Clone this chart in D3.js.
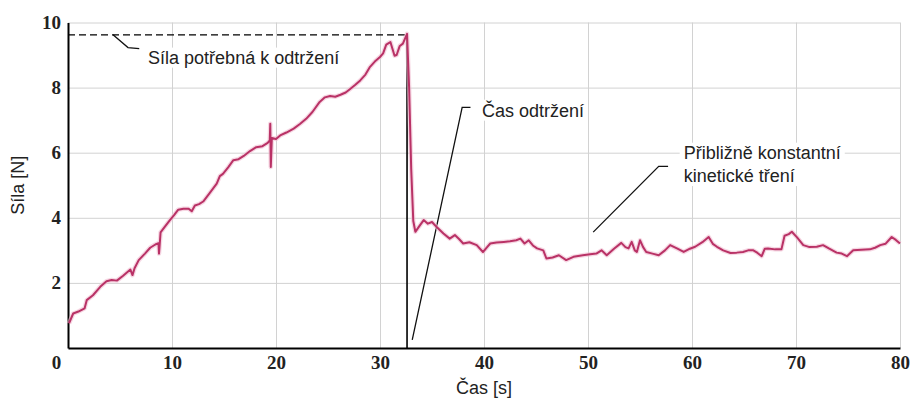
<!DOCTYPE html>
<html>
<head>
<meta charset="utf-8">
<script src="https://cdn.jsdelivr.net/npm/d3@7"></script>
<style>
	body { margin: 0; background: #fff; }
	.grid line { stroke: #d2d2d2; stroke-width: 1; }
	.grid path { display: none; }
	.tick text { font-family: "Liberation Serif", serif; font-weight: bold; font-size: 19px; fill: #222; }
	.label { font-family: "Liberation Sans", Arial, sans-serif; font-size: 18px; fill: #222; }
	.leader { stroke: #111; stroke-width: 1.3; fill: none; }
</style>
</head>
<body>
<svg width="911" height="398"></svg>
<script>
// data: time [s] and force [N]
var time = [
	0.1, 0.5, 1.0, 1.6, 1.8, 2.4, 3.1, 3.7, 4.2, 4.7,
	5.3, 6.0, 6.2, 6.4, 6.8, 7.4, 7.9, 8.4, 8.7, 8.75,
	8.8, 8.9, 9.3, 9.8, 10.2, 10.6, 11.1, 11.6, 11.9, 12.2,
	12.6, 13.0, 13.6, 14.3, 14.6, 14.9, 15.4, 15.9, 16.4, 16.9,
	17.5, 18.1, 18.7, 19.2, 19.4, 19.45, 19.5, 19.6, 20.0, 20.4,
	21.0, 21.7, 22.3, 22.9, 23.5, 24.2, 24.7, 25.2, 25.7, 26.2,
	26.7, 27.1, 27.6, 28.1, 28.6, 29.0, 29.5, 30.0, 30.3, 30.6,
	31.0, 31.4, 31.6, 31.9, 32.2, 32.6, 32.8, 33.0, 33.2, 33.4,
	33.8, 34.2, 34.6, 35.0, 35.5, 36.1, 36.7, 37.2, 37.6, 38.0,
	38.6, 39.3, 39.9, 40.3, 40.6, 41.2, 41.9, 42.5, 43.1, 43.5,
	43.9, 44.3, 44.7, 45.1, 45.7, 46.0, 46.6, 47.2, 47.9, 48.6,
	49.5, 50.2, 50.8, 51.3, 51.8, 52.5, 53.2, 53.6, 53.9, 54.2,
	54.5, 54.7, 55.0, 55.3, 55.6, 56.2, 56.8, 57.4, 57.9, 58.6,
	59.2, 59.8, 60.3, 61.0, 61.6, 62.0, 62.4, 63.0, 63.7, 64.3,
	64.9, 65.4, 65.9, 66.3, 66.7, 67.0, 67.3, 68.0, 68.6, 68.9,
	69.3, 69.6, 70.1, 70.7, 71.3, 72.0, 72.6, 73.2, 73.9, 74.4,
	74.9, 75.5, 76.3, 77.1, 77.6, 78.1, 78.6, 79.2, 79.6, 80.0
];
var force = [
	0.76, 1.06, 1.12, 1.22, 1.47, 1.62, 1.88, 2.05, 2.09, 2.07,
	2.22, 2.41, 2.24, 2.45, 2.70, 2.90, 3.08, 3.18, 3.22, 2.90,
	3.10, 3.55, 3.72, 3.93, 4.08, 4.25, 4.28, 4.28, 4.20, 4.38,
	4.42, 4.50, 4.75, 5.05, 5.28, 5.35, 5.55, 5.77, 5.80, 5.90,
	6.05, 6.17, 6.20, 6.30, 6.38, 6.89, 5.56, 6.45, 6.42, 6.53,
	6.62, 6.74, 6.88, 7.04, 7.25, 7.56, 7.70, 7.74, 7.72, 7.78,
	7.85, 7.95, 8.08, 8.22, 8.40, 8.62, 8.80, 8.94, 9.05, 9.32,
	9.40, 8.98, 9.00, 9.28, 9.35, 9.65, 8.00, 5.50, 3.90, 3.57,
	3.75, 3.93, 3.82, 3.87, 3.70, 3.52, 3.36, 3.47, 3.35, 3.21,
	3.25, 3.16, 2.95, 3.10, 3.21, 3.24, 3.26, 3.28, 3.31, 3.36,
	3.21, 3.31, 3.15, 3.06, 3.00, 2.75, 2.78, 2.85, 2.70, 2.80,
	2.85, 2.88, 2.90, 3.00, 2.85, 3.05, 3.23, 3.10, 3.06, 3.26,
	3.00, 2.95, 3.31, 3.10, 2.95, 2.90, 2.85, 3.00, 3.16, 3.05,
	2.95, 3.05, 3.11, 3.25, 3.41, 3.20, 3.11, 3.00, 2.92, 2.93,
	2.95, 3.00, 3.00, 2.92, 2.82, 3.05, 3.06, 3.03, 3.03, 3.45,
	3.50, 3.57, 3.40, 3.16, 3.10, 3.11, 3.16, 3.05, 2.93, 2.90,
	2.82, 3.00, 3.02, 3.03, 3.08, 3.16, 3.20, 3.41, 3.32, 3.21
];
var xTicks = [0, 10, 20, 30, 40, 50, 60, 70, 80];
var yTicks = [2, 4, 6, 8, 10];
var breakTime = 32.6,
	breakForce = 9.62;

// annotations: leader points in data units, text anchor
var notes = [
	{ lines: ["Síla potřebná k odtržení"], x: 7.7, y: 8.93, path: [[4.33, 9.62], [5.77, 9.23], [6.85, 9.2]] },
	{ lines: ["Čas odtržení"], x: 39.8, y: 7.3, path: [[33.1, 0.25], [37.9, 7.39], [38.7, 7.39]] },
	{ lines: ["Přibližně konstantní", "kinetické tření"], x: 59.2, y: 6.01, path: [[50.5, 3.56], [56.8, 5.58], [57.7, 5.58]] }
];

var svg = d3.select("svg"),
	plotLeft = 68,
	plotRight = 900,
	plotTop = 22.5,
	plotBottom = 348;

var x = d3.scaleLinear().domain([0, 80]).range([plotLeft, plotRight]);
var y = d3.scaleLinear().domain([0, 10]).range([plotBottom, plotTop]);

// grid
svg.append("g")
	.attr("class", "grid")
	.attr("transform", "translate(0," + plotBottom + ")")
	.call(d3.axisBottom(x).tickValues(xTicks.slice(1)).tickSize(-(plotBottom - plotTop)).tickFormat(""));
svg.append("g")
	.attr("class", "grid")
	.attr("transform", "translate(" + plotLeft + ",0)")
	.call(d3.axisLeft(y).tickValues(yTicks).tickSize(-(plotRight - plotLeft)).tickFormat(""));

// axes
var xAxis = svg.append("g")
	.attr("transform", "translate(0," + plotBottom + ")")
	.call(d3.axisBottom(x).tickValues(xTicks).tickSize(0).tickPadding(8));
var yAxis = svg.append("g")
	.attr("transform", "translate(" + plotLeft + ",0)")
	.call(d3.axisLeft(y).tickValues(yTicks).tickSize(0).tickPadding(7));
xAxis.select(".domain").attr("stroke", "#000").attr("stroke-width", 2);
yAxis.select(".domain").attr("stroke", "#000").attr("stroke-width", 2);
xAxis.selectAll(".tick text").attr("fill", "#222");
yAxis.selectAll(".tick text").attr("fill", "#222");

// "0" of the x axis sits left of the corner
xAxis.selectAll(".tick").filter(function (d) { return d === 0; })
	.select("text").attr("x", -12);

svg.append("text")
	.attr("class", "label")
	.attr("x", (plotLeft + plotRight) / 2)
	.attr("y", 394)
	.attr("text-anchor", "middle")
	.text("Čas [s]");
svg.append("text")
	.attr("class", "label")
	.attr("transform", "translate(24," + (plotTop + plotBottom) / 2 + ") rotate(-90)")
	.attr("text-anchor", "middle")
	.text("Síla [N]");

// annotation labels on white so the grid breaks behind them
var line = d3.line()
	.x(function (d) { return x(d[0]); })
	.y(function (d) { return y(d[1]); });

notes.forEach(function (n) {
	var g = svg.append("g");
	var t = g.append("text")
		.attr("class", "label")
		.attr("x", x(n.x))
		.attr("y", y(n.y));
	t.selectAll("tspan")
		.data(n.lines)
		.enter()
		.append("tspan")
		.attr("x", x(n.x))
		.attr("dy", function (d, i) { return i === 0 ? "0.35em" : "1.3em"; })
		.text(function (d) { return d; });
	var b = t.node().getBBox();
	g.insert("rect", "text")
		.attr("x", b.x - 4)
		.attr("y", b.y)
		.attr("width", b.width + 8)
		.attr("height", b.height)
		.attr("fill", "#fff");
	svg.append("path")
		.attr("class", "leader")
		.attr("d", line(n.path));
});

// breakaway markers
svg.append("line")
	.attr("x1", x(0)).attr("x2", x(breakTime))
	.attr("y1", y(breakForce)).attr("y2", y(breakForce))
	.attr("stroke", "#000")
	.attr("stroke-width", 1.4)
	.attr("stroke-dasharray", "7,4");
svg.append("line")
	.attr("x1", x(breakTime)).attr("x2", x(breakTime))
	.attr("y1", y(0)).attr("y2", y(breakForce))
	.attr("stroke", "#000")
	.attr("stroke-width", 1.6);

// force curve
var points = time.map(function (t, i) { return [t, force[i]]; });
svg.append("path")
	.datum(points)
	.attr("fill", "none")
	.attr("stroke", "#f0bcd0")
	.attr("stroke-width", 4.5)
	.attr("stroke-linejoin", "round")
	.attr("opacity", 0.6)
	.attr("d", line);
svg.append("path")
	.datum(points)
	.attr("fill", "none")
	.attr("stroke", "#b93266")
	.attr("stroke-width", 2)
	.attr("stroke-linejoin", "round")
	.attr("d", line);
</script>
</body>
</html>
